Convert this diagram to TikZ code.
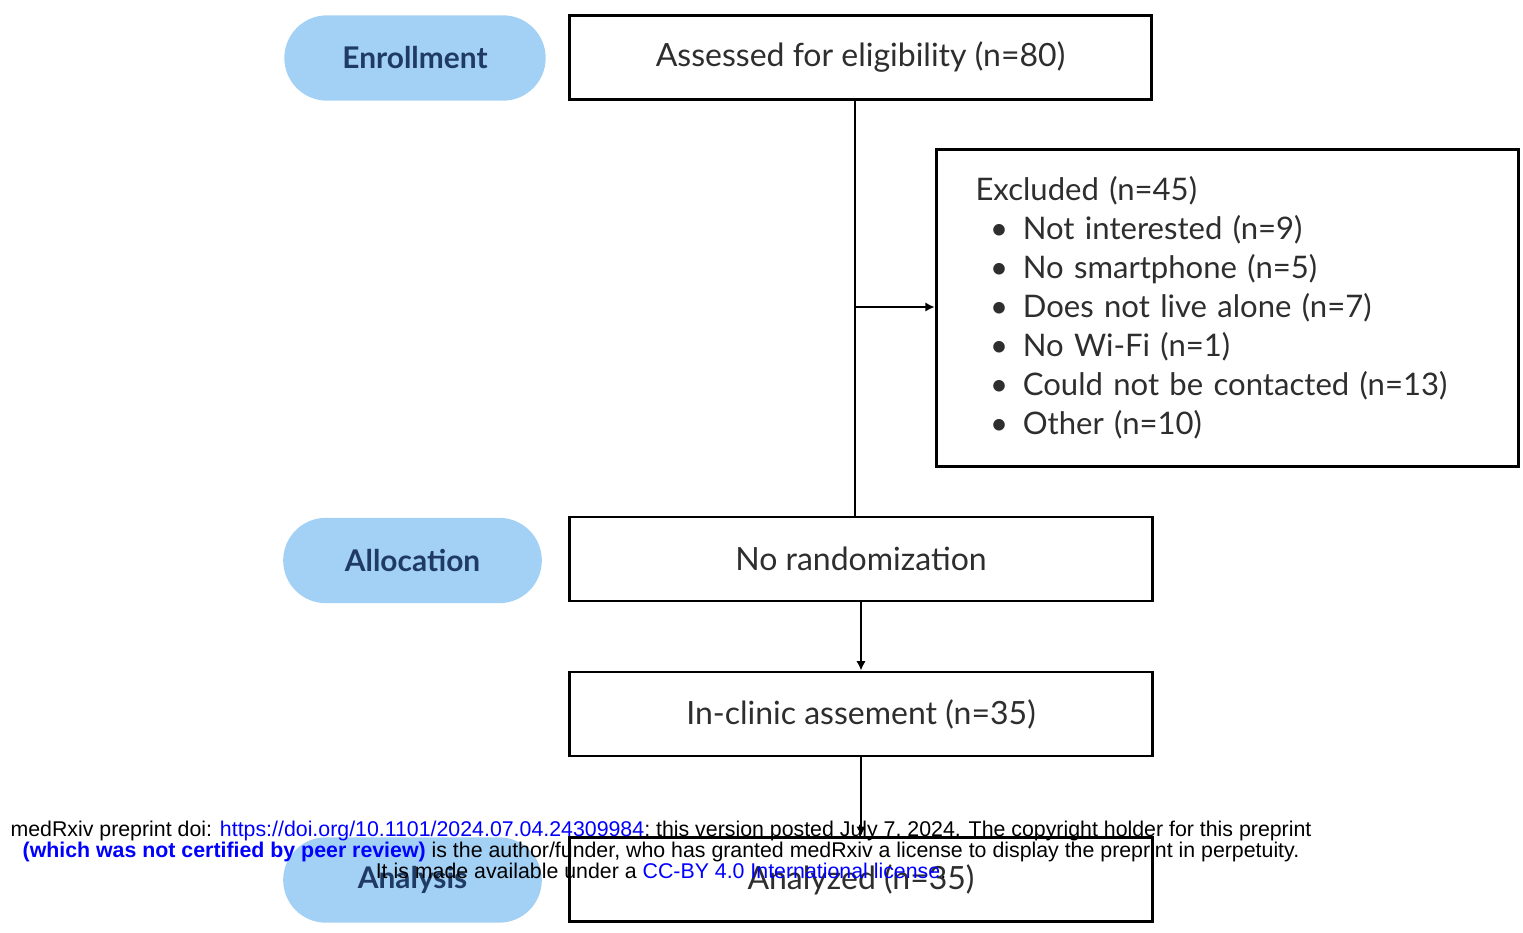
\documentclass[tikz,border=0pt]{standalone}
\usepackage{fontspec}
\setmainfont{Lato}
\newfontfamily\wmfont{Liberation Sans}
\usetikzlibrary{arrows.meta}
\definecolor{pillblue}{HTML}{A3D1F5}
\definecolor{pillnavy}{HTML}{1F3B63}
\definecolor{boxtext}{HTML}{2E2E2E}
\definecolor{linkblue}{HTML}{0000FF}

\begin{document}
\begin{tikzpicture}[x=0.75pt,y=-0.75pt,
    pill/.style={rounded corners=32pt,fill=pillblue,minimum width=196pt,minimum height=64pt,
        text=pillnavy,font=\fontsize{22.4}{27}\selectfont\bfseries},
    flowbox/.style={draw=black,line width=2.2pt,fill=white,minimum width=437pt,minimum height=63pt,
        text=boxtext,font=\fontsize{24}{29}\selectfont},
    exbox/.style={flowbox,minimum height=238pt,text width=378pt,align=left,
        inner xsep=29pt,font=\fontsize{23.3}{29.25}\selectfont},
    link/.style={line width=2pt,-{Latex[length=7pt,width=7pt]}}]
    \useasboundingbox (0,0) rectangle (1523,932);
    \fill[white] (0,0) rectangle (1523,932);
    \newcommand{\exitem}[1]{\hspace*{11pt}\textbullet\hspace{11pt}#1}
    \node[pill] (enroll) at (415,58) {Enrollment};
    \node[pill,minimum width=194pt] (alloc) at (412.5,560.5) {Allocation};
    \node[pill,minimum width=194pt] (analysis) at (412.5,880) {Analysis};
    \node[flowbox] (assess) at (860.5,57.5) {Assessed for eligibility (n=80)};
    \node[exbox] (excl) at (1227.5,308) {Excluded (n=45)\\
        \exitem{Not interested (n=9)}\\
        \exitem{No smartphone (n=5)}\\
        \exitem{Does not live alone (n=7)}\\
        \exitem{No Wi-Fi (n=1)}\\
        \exitem{Could not be contacted (n=13)}\\
        \exitem{Other (n=10)}};
    \node[flowbox] (norand) at (861,559) {No randomization};
    \node[flowbox] (inclinic) at (861,714) {In-clinic assement (n=35)};
    \node[flowbox] (analyzed) at (861,879.5) {Analyzed (n=35)};
    \coordinate (trunk) at (855,307);
    \draw[line width=2pt] (assess.south -| trunk) -- (norand.north -| trunk);
    \draw[link] (trunk) -- (excl.west |- trunk);
    \draw[link] (norand) -- (inclinic);
    \draw[link] (inclinic) -- (analyzed);
    % preprint notice printed over the chart
    \node[align=center,inner sep=0pt,font=\wmfont\fontsize{16}{15.6}\selectfont] (notice) at (661,850)
        {medRxiv preprint doi: \textcolor{linkblue}{https://doi.org/10.1101/2024.07.04.24309984}; this version posted July 7, 2024. The copyright holder for this preprint\\
        \textcolor{linkblue}{\bfseries (which was not certified by peer review)} is the author/funder, who has granted medRxiv a license to display the preprint in perpetuity.\\
        It is made available under a \textcolor{linkblue}{CC-BY 4.0 International license}.};
\end{tikzpicture}
\end{document}
